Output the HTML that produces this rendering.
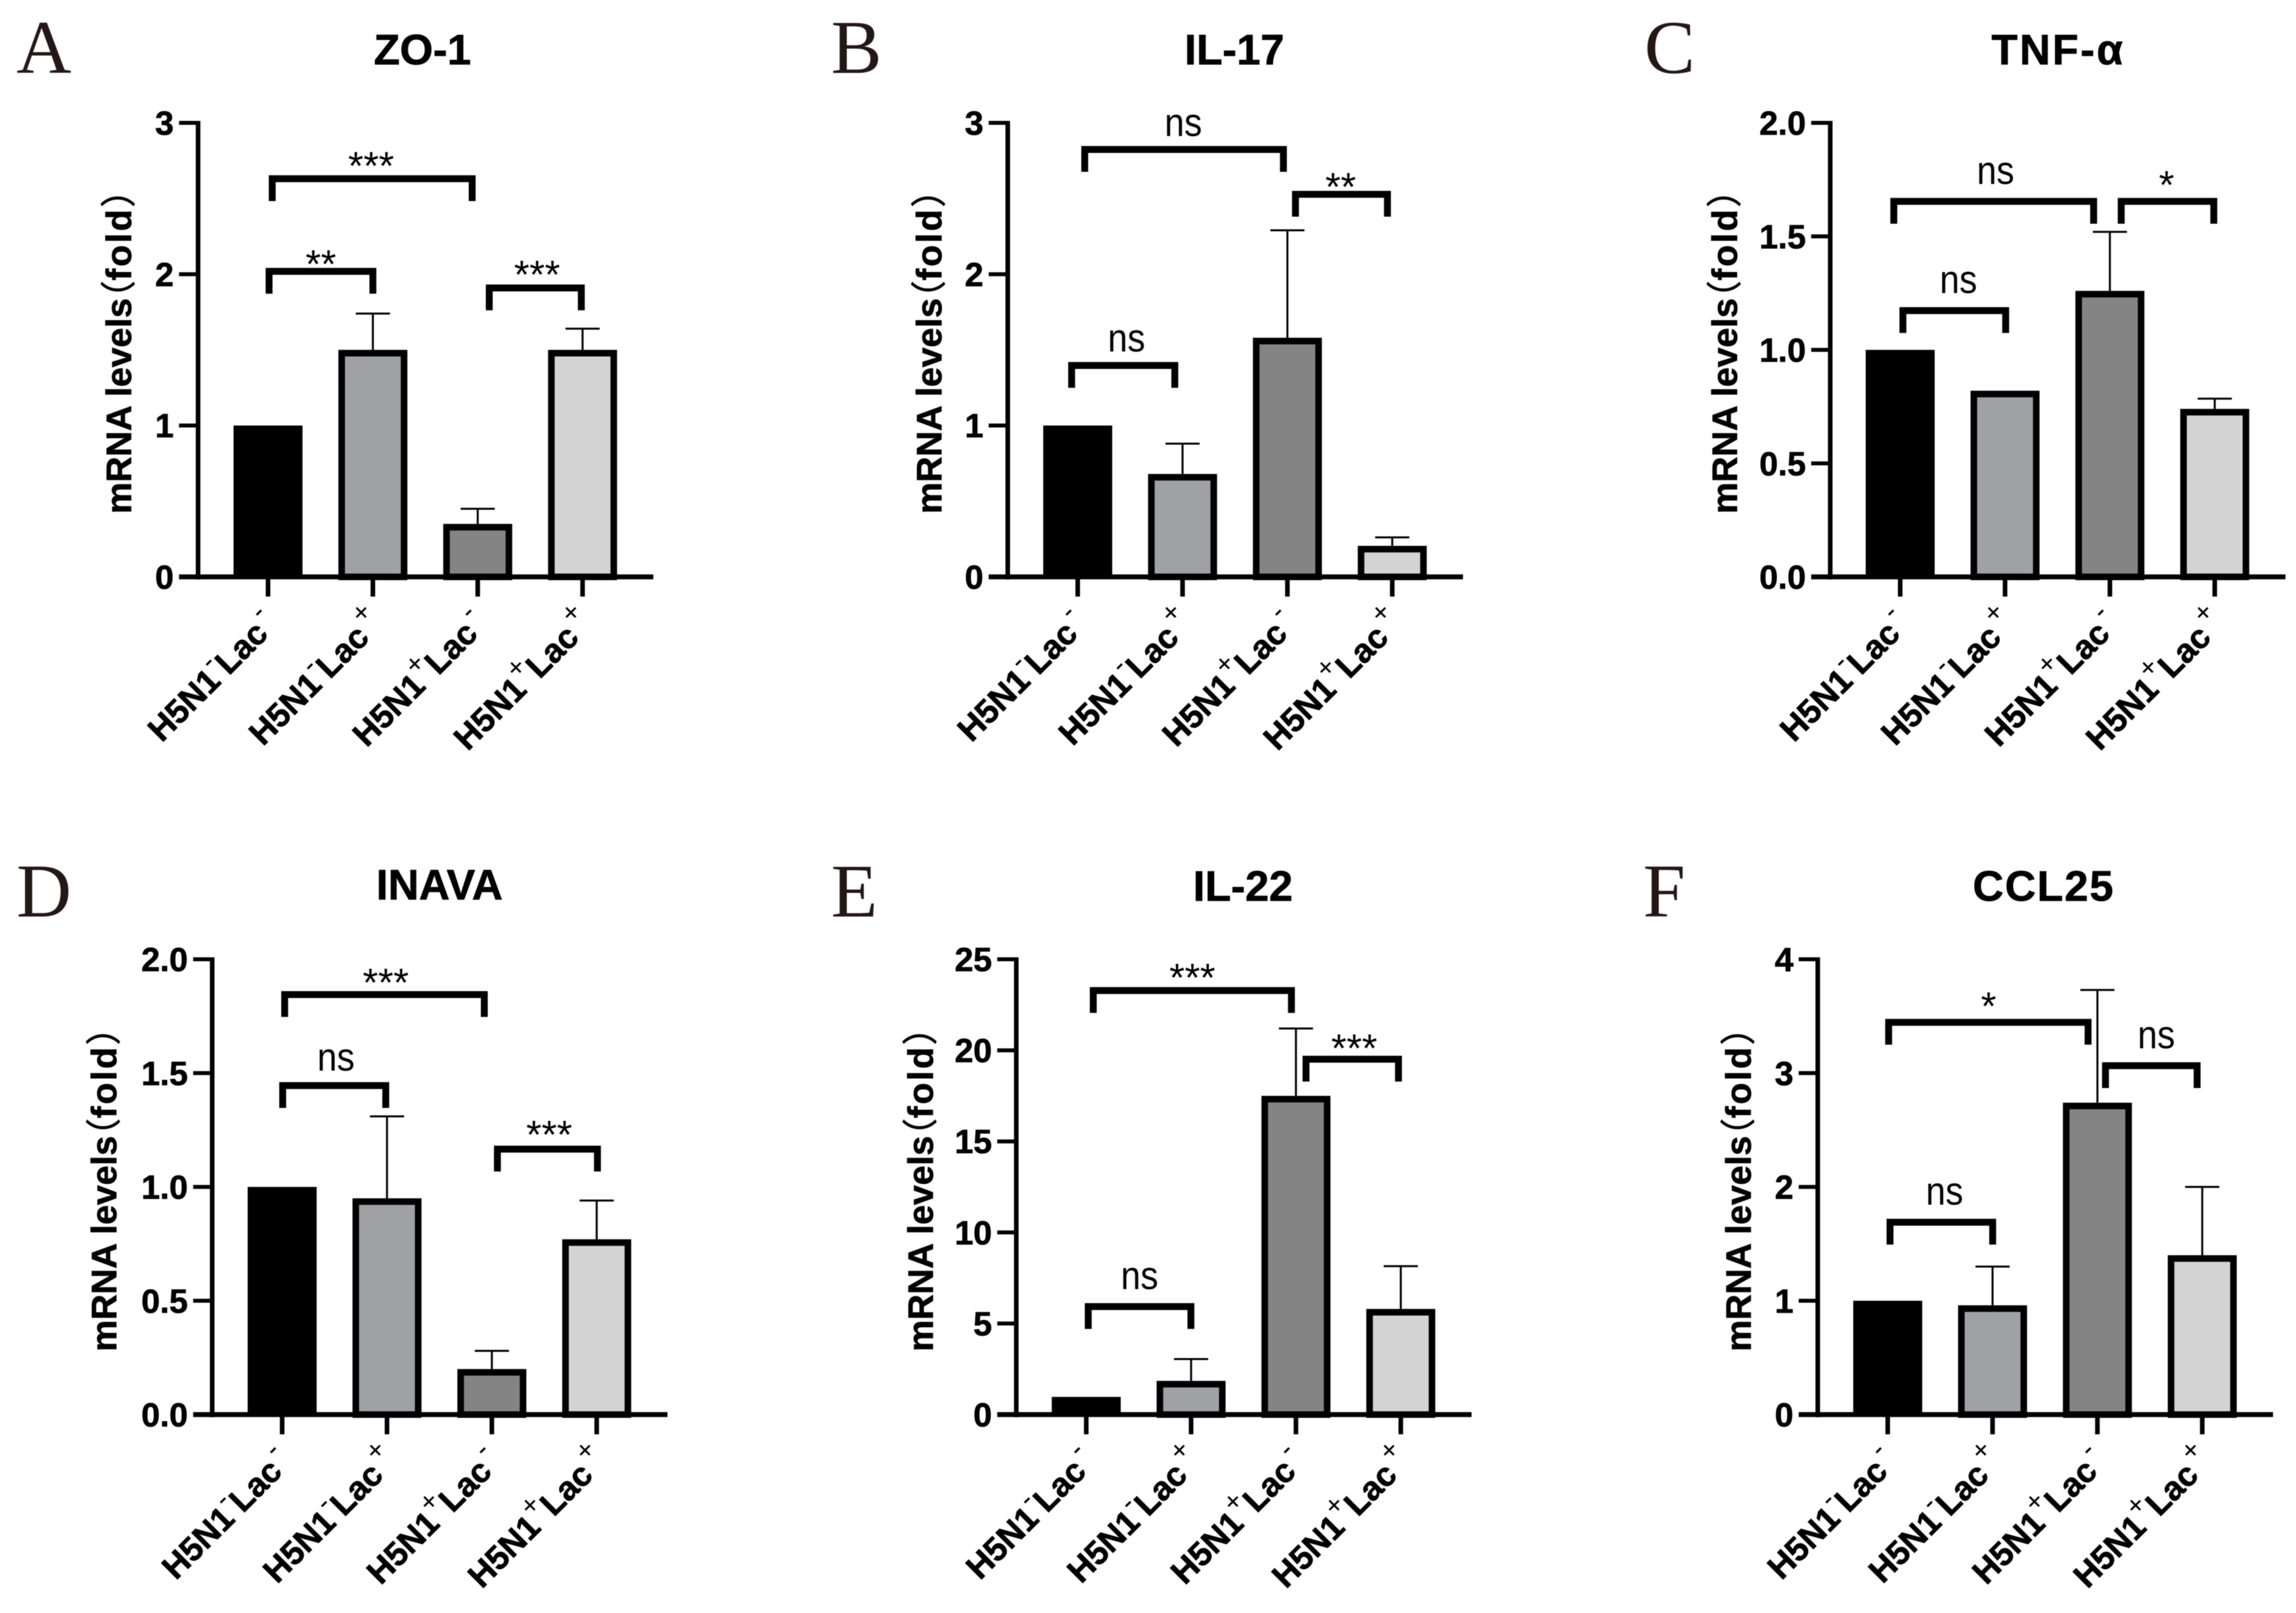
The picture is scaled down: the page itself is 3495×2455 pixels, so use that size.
<!DOCTYPE html>
<html lang="en">
<head>
<meta charset="utf-8">
<title>mRNA levels bar chart panels</title>
<style>
  html, body { margin: 0; padding: 0; background: #ffffff; }
  svg { display: block; filter: blur(0.6px); }
  text { font-family: "Liberation Sans", "Noto Sans CJK SC", sans-serif; fill: #000000; }
  .heavy { stroke: #000; stroke-width: 0.8px; }
</style>
</head>
<body>
<svg id="figure" xmlns="http://www.w3.org/2000/svg" width="3495" height="2455" viewBox="0 0 3495 2455"></svg>
<script>
// Shared categories: gene sign for H5N1 and Lac
const categoryBase = ["H5N1", "Lac"];
const categorySigns = [["-", "-"], ["-", "+"], ["+", "-"], ["+", "+"]];
const barFills = ["#000000", "#a0a1a5", "#848484", "#d3d3d3"];

// A: ZO-1
const zo1Means = [1, 1.5, 0.35, 1.5];
const zo1Errors = [0, 0.24, 0.1, 0.14];
const zo1Ticks = ["0", "1", "2", "3"];
const zo1Brackets = [
  [0.04, 1.947, 2.631, "***", 0.983, 2.761],
  [0.01, 1.0, 2.019, "**", 0.504, 2.112],
  [2.11, 2.988, 1.909, "***", 2.566, 2.042]
];

// B: IL-17
const il17Means = [1, 0.68, 1.58, 0.205];
const il17Errors = [0, 0.2, 0.71, 0.056];
const il17Ticks = ["0", "1", "2", "3"];
const il17Brackets = [
  [0.067, 1.962, 2.824, "ns", 1.007, 2.98],
  [2.077, 2.954, 2.528, "**", 2.508, 2.621],
  [-0.058, 0.926, 1.397, "ns", 0.465, 1.557]
];

// C: TNF-alpha
const tnfMeans = [1, 0.82, 1.26, 0.74];
const tnfErrors = [0, 0, 0.26, 0.045];
const tnfTicks = ["0.0", "0.5", "1.0", "1.5", "2.0"];
const tnfBrackets = [
  [-0.061, 1.845, 1.654, "ns", 0.909, 1.776],
  [2.108, 2.991, 1.654, "*", 2.54, 1.756],
  [0.026, 1.006, 1.173, "ns", 0.555, 1.295]
];

// D: INAVA
const inavaMeans = [1, 0.95, 0.2, 0.77];
const inavaErrors = [0, 0.36, 0.08, 0.17];
const inavaTicks = ["0.0", "0.5", "1.0", "1.5", "2.0"];
const inavaBrackets = [
  [0.024, 1.928, 1.845, "***", 0.988, 1.927],
  [0.005, 0.988, 1.445, "ns", 0.513, 1.556],
  [2.053, 3.007, 1.166, "***", 2.547, 1.259]
];

// E: IL-22
const il22Means = [0.97, 1.85, 17.5, 5.8];
const il22Errors = [0, 1.2, 3.7, 2.35];
const il22Ticks = ["0", "5", "10", "15", "20", "25"];
const il22Brackets = [
  [0.067, 1.957, 23.28, "***", 1.012, 24.36],
  [2.096, 2.978, 19.51, "***", 2.556, 20.48],
  [0.019, 0.998, 5.93, "ns", 0.508, 7.46]
];

// F: CCL25
const ccl25Means = [1, 0.96, 2.74, 1.4];
const ccl25Errors = [0, 0.34, 0.99, 0.6];
const ccl25Ticks = ["0", "1", "2", "3", "4"];
const ccl25Brackets = [
  [0.009, 1.911, 3.446, "*", 0.962, 3.646],
  [2.077, 2.951, 3.065, "ns", 2.562, 3.308],
  [0.022, 1.001, 1.69, "ns", 0.542, 1.934]
];

const SVGNS = "http://www.w3.org/2000/svg";
const figure = document.getElementById("figure");

function make(tag, attrs, parent) {
  const el = document.createElementNS(SVGNS, tag);
  for (const k in attrs) el.setAttribute(k, attrs[k]);
  parent.appendChild(el);
  return el;
}

function drawPanel(p) {
  const group = make("g", {}, figure);
  
  

  const maxV = parseFloat(p.ticks[p.ticks.length - 1]);
  const yAt = v => p.base - (v / maxV) * (p.base - p.top);
  const xAt = c => p.axisX + 106.5 + c * 159.6;
  const barW = 105, barStroke = 10;

  // panel letter
  const letter = make("text", { x: p.letterX, y: p.letterY, "font-size": 116 }, group);
  
  
  letter.style.fontFamily = '"Liberation Serif", serif';
  letter.style.fill = "#231815";
  letter.textContent = p.letter;

  // title
  const title = make("text", { x: p.titleX, y: p.titleY, "font-size": 65, "font-weight": 700, "text-anchor": "middle", "letter-spacing": p.titleSpacing, class: "heavy" }, group);
  
  
  title.textContent = p.title;

  // bars + error bars
  p.means.forEach((m, i) => {
    const cx = xAt(i), yTop = yAt(m);
    if (i === 0) {
      const bar = make("rect", { x: cx - barW / 2, y: yTop, width: barW, height: p.base - yTop, fill: barFills[i] }, group);
      
      
    } else {
      const bar = make("rect", {
        x: cx - barW / 2 + barStroke / 2, y: yTop + barStroke / 2,
        width: barW - barStroke, height: Math.max(0, p.base - yTop - barStroke / 2),
        fill: barFills[i], stroke: "#000", "stroke-width": barStroke
      }, group);
      
      
    }
    const e = p.errors[i];
    if (e > 0) {
      const yE = yAt(m + e);
      const stem = make("line", { x1: cx, x2: cx, y1: yTop, y2: yE, stroke: "#000", "stroke-width": 3 }, group);
      
      
      const cap = make("line", { x1: cx - 26, x2: cx + 26, y1: yE, y2: yE, stroke: "#000", "stroke-width": 3 }, group);
      
      
    }
  });

  // axes
  const yAxis = make("line", { x1: p.axisX, x2: p.axisX, y1: p.top - 3, y2: p.base + 4, stroke: "#000", "stroke-width": 7 }, group);
  
  
  const xAxis = make("line", { x1: p.axisX - 29, x2: p.axisX + 693, y1: p.base, y2: p.base, stroke: "#000", "stroke-width": 7.5 }, group);
  
  

  // y ticks
  p.ticks.forEach(label => {
    const v = parseFloat(label), y = yAt(v);
    if (v !== 0) {
      const tick = make("line", { x1: p.axisX - 29, x2: p.axisX, y1: y, y2: y, stroke: "#000", "stroke-width": 6 }, group);
      
      
    }
    const t = make("text", { x: p.axisX - 37, y: y + 18, "font-size": 51, "font-weight": 700, "text-anchor": "end", class: "heavy" }, group);
    
    
    t.textContent = label;
  });

  // y axis title
  const yTitle = make("text", {
    transform: "translate(" + (p.axisX - p.yTitleGap) + "," + (p.base - 96) + ") rotate(-90)",
    "font-size": 54, "font-weight": 700, class: "heavy"
  }, group);
  
  
  const t1 = make("tspan", {}, yTitle); t1.textContent = "mRNA levels";
  const t2 = make("tspan", { dx: -27, "font-weight": 400 }, yTitle); t2.textContent = "（";
  const t3 = make("tspan", { "letter-spacing": 3 }, yTitle); t3.textContent = "fold";
  const t4 = make("tspan", { "font-weight": 400 }, yTitle); t4.textContent = "）";

  // x ticks + labels
  categorySigns.forEach((signs, i) => {
    const x = xAt(i);
    const tick = make("line", { x1: x, x2: x, y1: p.base, y2: p.base + 30, stroke: "#000", "stroke-width": 7 }, group);
    
    

    const back = signs[1] === "+" ? 8 : 0;
    const lab = make("g", { transform: "translate(" + (x + 2.5) + "," + (p.base + 89) + ") rotate(-45)" }, group);
    
    
    const main = make("text", { x: -back, y: 0, "font-size": 51, "font-weight": 700, "text-anchor": "end", class: "heavy" }, lab);
    const a = make("tspan", {}, main); a.textContent = categoryBase[0];
    const s1 = make("tspan", { dy: -25, "font-size": 42, "font-weight": 400 }, main); s1.textContent = signs[0];
    s1.style.strokeWidth = "0";
    const b = make("tspan", { dy: 25 }, main); b.textContent = categoryBase[1];
    const sup = make("text", { x: 6 - back, y: -25, "font-size": 42 }, lab);
    sup.textContent = signs[1];
  });

  // significance brackets
  p.brackets.forEach(br => {
    const x1 = xAt(br[0]), x2 = xAt(br[1]), y = yAt(br[2]);
    const path = make("path", {
      d: "M" + x1 + " " + (y + 34) + "V" + y + "H" + x2 + "V" + (y + 34),
      fill: "none", stroke: "#000", "stroke-width": 10.5
    }, group);
    
    
    const isNs = br[3] === "ns";
    const size = 60;
    const lift = isNs ? 0.26 * size : 0.58 * size - 4;
    const attrs = { x: xAt(br[4]), y: yAt(br[5]) + lift, "font-size": size, "text-anchor": "middle" };
    if (isNs) { attrs.textLength = 57; attrs.lengthAdjust = "spacingAndGlyphs"; }
    const t = make("text", attrs, group);
    
    
    t.textContent = br[3];
  });
}

drawPanel({ letter: "A", letterX: 25, letterY: 111, title: "ZO-1", titleSpacing: 0, titleX: 643, titleY: 98, axisX: 301.5, top: 187, base: 878, yTitleGap: 102, means: zo1Means, errors: zo1Errors, ticks: zo1Ticks, brackets: zo1Brackets });
drawPanel({ letter: "B", letterX: 1265, letterY: 111, title: "IL-17", titleSpacing: 0, titleX: 1879, titleY: 98, axisX: 1534, top: 187, base: 878, yTitleGap: 101, means: il17Means, errors: il17Errors, ticks: il17Ticks, brackets: il17Brackets });
drawPanel({ letter: "C", letterX: 2503, letterY: 111, title: "TNF-α", titleSpacing: 3, titleX: 3133, titleY: 98, axisX: 2786, top: 187, base: 878, yTitleGap: 142, means: tnfMeans, errors: tnfErrors, ticks: tnfTicks, brackets: tnfBrackets });
drawPanel({ letter: "D", letterX: 25, letterY: 1395, title: "INAVA", titleSpacing: 0, titleX: 669, titleY: 1369, axisX: 323, top: 1460, base: 2153, yTitleGap: 146, means: inavaMeans, errors: inavaErrors, ticks: inavaTicks, brackets: inavaBrackets });
drawPanel({ letter: "E", letterX: 1265, letterY: 1395, title: "IL-22", titleSpacing: 0, titleX: 1892, titleY: 1371, axisX: 1547, top: 1460, base: 2153, yTitleGap: 127, means: il22Means, errors: il22Errors, ticks: il22Ticks, brackets: il22Brackets });
drawPanel({ letter: "F", letterX: 2501, letterY: 1395, title: "CCL25", titleSpacing: 2, titleX: 3111, titleY: 1371, axisX: 2767, top: 1460, base: 2153, yTitleGap: 102, means: ccl25Means, errors: ccl25Errors, ticks: ccl25Ticks, brackets: ccl25Brackets });
</script>
</body>
</html>
